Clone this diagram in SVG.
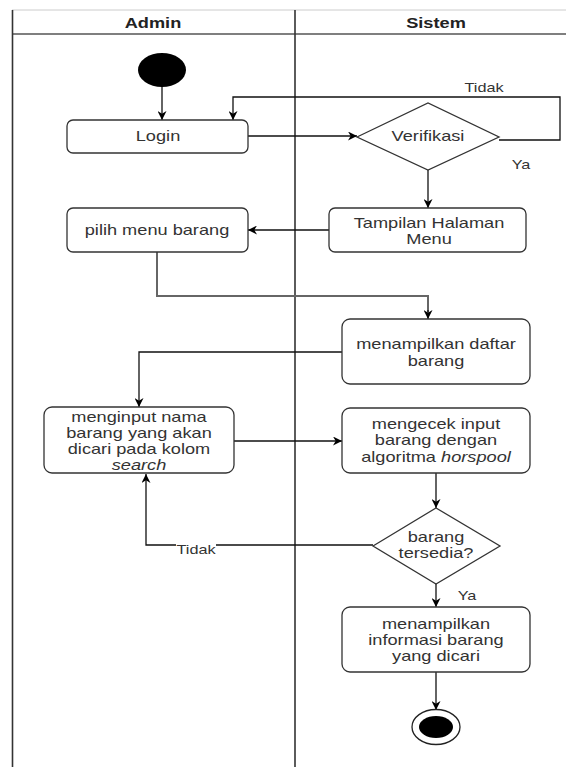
<svg xmlns="http://www.w3.org/2000/svg" width="566" height="767" viewBox="0 0 566 767">
<style>
  .lane { stroke: #333; stroke-width: 1.6; fill: none; }
  .box { fill: #fff; stroke: #333; stroke-width: 1.3; }
  .t { font-family: "Liberation Sans", Arial, sans-serif; font-size: 14px; fill: #333; text-anchor: middle; }
  .h { font-family: "Liberation Sans", Arial, sans-serif; font-size: 14px; font-weight: bold; fill: #222; text-anchor: middle; }
  .lbl { font-family: "Liberation Sans", Arial, sans-serif; font-size: 12.5px; fill: #333; text-anchor: middle; }
  .c { stroke: #111; stroke-width: 1.3; fill: none; }
  .c2 { stroke: #666; stroke-width: 2; fill: none; }
  .i { font-style: italic; }
</style>
<defs>
  <marker id="arr" viewBox="0 0 10 10" refX="10" refY="5" markerWidth="9" markerHeight="9" markerUnits="userSpaceOnUse" orient="auto">
    <path d="M0,0 L10,5 L0,10 L3,5 z" fill="#000"/>
  </marker>
</defs>
<rect width="566" height="767" fill="#fff"/>
<g id="lanes">
  <line x1="12" y1="10" x2="566" y2="10" stroke="#ccc" stroke-width="1"/>
  <line x1="12" y1="34" x2="566" y2="34" stroke="#555" stroke-width="1.3"/>
  <line class="lane" x1="12.5" y1="10" x2="12.5" y2="767"/>
  <line class="lane" x1="295" y1="10" x2="295" y2="767"/>
  <text class="h" transform="matrix(1.3 0 0 1 153 0)" y="28">Admin</text>
  <text class="h" transform="matrix(1.3 0 0 1 436 0)" y="28">Sistem</text>
</g>
<g id="connectors">
  <path class="c" d="M162,87 V120" marker-end="url(#arr)"/>
  <path class="c" d="M248,136 H357" marker-end="url(#arr)"/>
  <path class="c" d="M499,140 H560 V97 H233 V120" marker-end="url(#arr)"/>
  <path class="c" d="M428,170 V208" marker-end="url(#arr)"/>
  <path class="c" d="M329,230 H248" marker-end="url(#arr)"/>
  <path class="c2" d="M157,252 V296 H428 V312"/>
  <path class="c" d="M428,310 V319" marker-end="url(#arr)"/>
  <path class="c" d="M342,352 H139 V407" marker-end="url(#arr)"/>
  <path class="c" d="M234,441 H342" marker-end="url(#arr)"/>
  <path class="c" d="M436,473 V508" marker-end="url(#arr)"/>
  <path class="c" d="M373,545 H146 V474" marker-end="url(#arr)"/>
  <rect x="176" y="541" width="40" height="13" fill="#fff"/>
  <text class="lbl" transform="matrix(1.3 0 0 1 196 0)" y="554">Tidak</text>
  <path class="c" d="M436,584 V607" marker-end="url(#arr)"/>
  <path class="c" d="M436,672 V710" marker-end="url(#arr)"/>
  <text class="lbl" transform="matrix(1.3 0 0 1 484 0)" y="92">Tidak</text>
  <text class="lbl" transform="matrix(1.3 0 0 1 521 0)" y="169">Ya</text>
  <text class="lbl" transform="matrix(1.3 0 0 1 467 0)" y="600">Ya</text>
</g>
<g id="start">
  <ellipse cx="162" cy="70" rx="24" ry="17" fill="#000"/>
</g>
<g id="login">
  <rect class="box" x="67" y="120" width="181" height="33" rx="6"/>
  <text class="t" transform="matrix(1.3 0 0 1 158 0)" y="141">Login</text>
</g>
<g id="verifikasi">
  <polygon class="box" points="357,137 428,103 499,137 428,170"/>
  <text class="t" transform="matrix(1.3 0 0 1 428 0)" y="141">Verifikasi</text>
</g>
<g id="tampilan">
  <rect class="box" x="329" y="208" width="197" height="44" rx="6"/>
  <text class="t" transform="matrix(1.3 0 0 1 429 0)" y="228"><tspan x="0">Tampilan Halaman</tspan><tspan x="0" dy="16">Menu</tspan></text>
</g>
<g id="pilih">
  <rect class="box" x="67" y="208" width="181" height="44" rx="6"/>
  <text class="t" transform="matrix(1.3 0 0 1 157 0)" y="235">pilih menu barang</text>
</g>
<g id="daftar">
  <rect class="box" x="342" y="319" width="188" height="65" rx="8"/>
  <text class="t" transform="matrix(1.3 0 0 1 436 0)" y="349"><tspan x="0">menampilkan daftar</tspan><tspan x="0" dy="17">barang</tspan></text>
</g>
<g id="menginput">
  <rect class="box" x="44" y="407" width="190" height="66" rx="8"/>
  <text class="t" transform="matrix(1.3 0 0 1 139 0)" y="422"><tspan x="0">menginput nama</tspan><tspan x="0" dy="16">barang yang akan</tspan><tspan x="0" dy="16">dicari pada kolom</tspan><tspan x="0" dy="16" class="i">search</tspan></text>
</g>
<g id="mengecek">
  <rect class="box" x="342" y="408" width="188" height="65" rx="8"/>
  <text class="t" transform="matrix(1.3 0 0 1 436 0)" y="429"><tspan x="0">mengecek input</tspan><tspan x="0" dy="16.5">barang dengan</tspan><tspan x="0" dy="16.5">algoritma <tspan class="i">horspool</tspan></tspan></text>
</g>
<g id="tersedia">
  <polygon class="box" points="373,546 436,508 500,546 436,584"/>
  <text class="t" transform="matrix(1.3 0 0 1 436 0)" y="542"><tspan x="0">barang</tspan><tspan x="0" dy="16">tersedia?</tspan></text>
</g>
<g id="informasi">
  <rect class="box" x="342" y="607" width="188" height="65" rx="8"/>
  <text class="t" transform="matrix(1.3 0 0 1 436 0)" y="629"><tspan x="0">menampilkan</tspan><tspan x="0" dy="16">informasi barang</tspan><tspan x="0" dy="16">yang dicari</tspan></text>
</g>
<g id="end">
  <ellipse cx="436" cy="727" rx="24" ry="17.5" fill="#fff" stroke="#222" stroke-width="1.3"/>
  <ellipse cx="436" cy="727" rx="17" ry="11" fill="#000"/>
</g>
</svg>
